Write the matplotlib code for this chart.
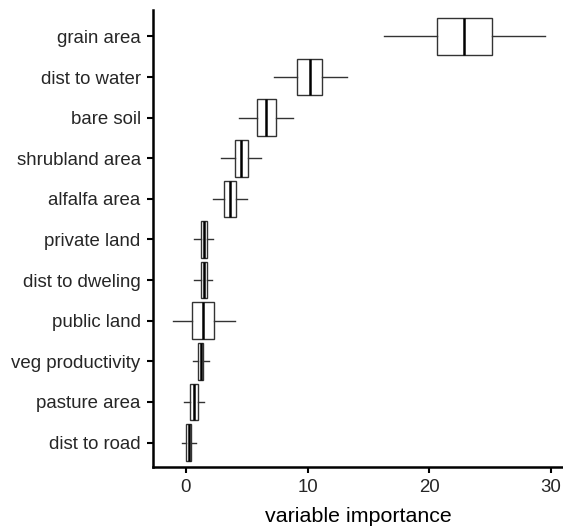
import matplotlib
matplotlib.use("Agg")
import matplotlib.pyplot as plt

plt.rcParams["font.family"] = ["Liberation Sans", "DejaVu Sans"]

# variables from top to bottom
variables = [
    "grain area", "dist to water", "bare soil", "shrubland area", "alfalfa area",
    "private land", "dist to dweling", "public land", "veg productivity",
    "pasture area", "dist to road",
]
whisker_lo = [16.3, 7.2, 4.4, 2.9, 2.2, 0.7, 0.7, -1.1, 0.6, -0.14, -0.3]
q1 = [20.6, 9.1, 5.8, 4.0, 3.1, 1.2, 1.23, 0.52, 1.0, 0.36, 0.03]
medians = [22.9, 10.2, 6.6, 4.5, 3.6, 1.45, 1.45, 1.42, 1.2, 0.63, 0.22]
q3 = [25.2, 11.2, 7.4, 5.1, 4.1, 1.75, 1.7, 2.3, 1.42, 0.96, 0.44]
whisker_hi = [29.5, 13.2, 8.8, 6.2, 5.0, 2.2, 2.16, 4.0, 1.86, 1.48, 0.8]

_INK = "#000000"
_EDGE = "#333333"
_TEXT = "#262626"

stats = []
for name, lo, a, m, b, hi in zip(variables, whisker_lo, q1, medians, q3, whisker_hi):
    stats.append({"label": name, "whislo": lo, "q1": a, "med": m, "q3": b, "whishi": hi, "fliers": []})

positions = list(range(len(variables), 0, -1))

fig = plt.figure(figsize=(5.63, 5.27), dpi=100)
ax = fig.add_axes([0.272, 0.114, 0.728, 0.867])

ax.bxp(
    stats, positions=positions, vert=False, widths=0.9, showcaps=False,
    showfliers=False, patch_artist=True,
    boxprops=dict(facecolor="white", edgecolor=_EDGE, linewidth=1.0),
    whiskerprops=dict(color=_EDGE, linewidth=1.0),
    medianprops=dict(color=_INK, linewidth=1.8),
)

ax.set_xlim(-2.7, 31)
ax.set_ylim(0.4, 11.65)
ax.set_xticks([0, 10, 20, 30])
ax.set_yticks(positions)
ax.set_yticklabels(variables)

for side in ("top", "right"):
    ax.spines[side].set_visible(False)
for side in ("left", "bottom"):
    ax.spines[side].set_linewidth(1.8)
    ax.spines[side].set_color(_INK)

ax.tick_params(axis="both", direction="out", length=4, width=1.5, color=_INK,
               labelsize=13.4, labelcolor=_TEXT)
ax.tick_params(axis="x", pad=4.5)
ax.tick_params(axis="y", pad=5)
ax.set_xlabel("variable importance", fontsize=15.4, color=_INK, labelpad=8)

fig.savefig("out.png", dpi=100)
